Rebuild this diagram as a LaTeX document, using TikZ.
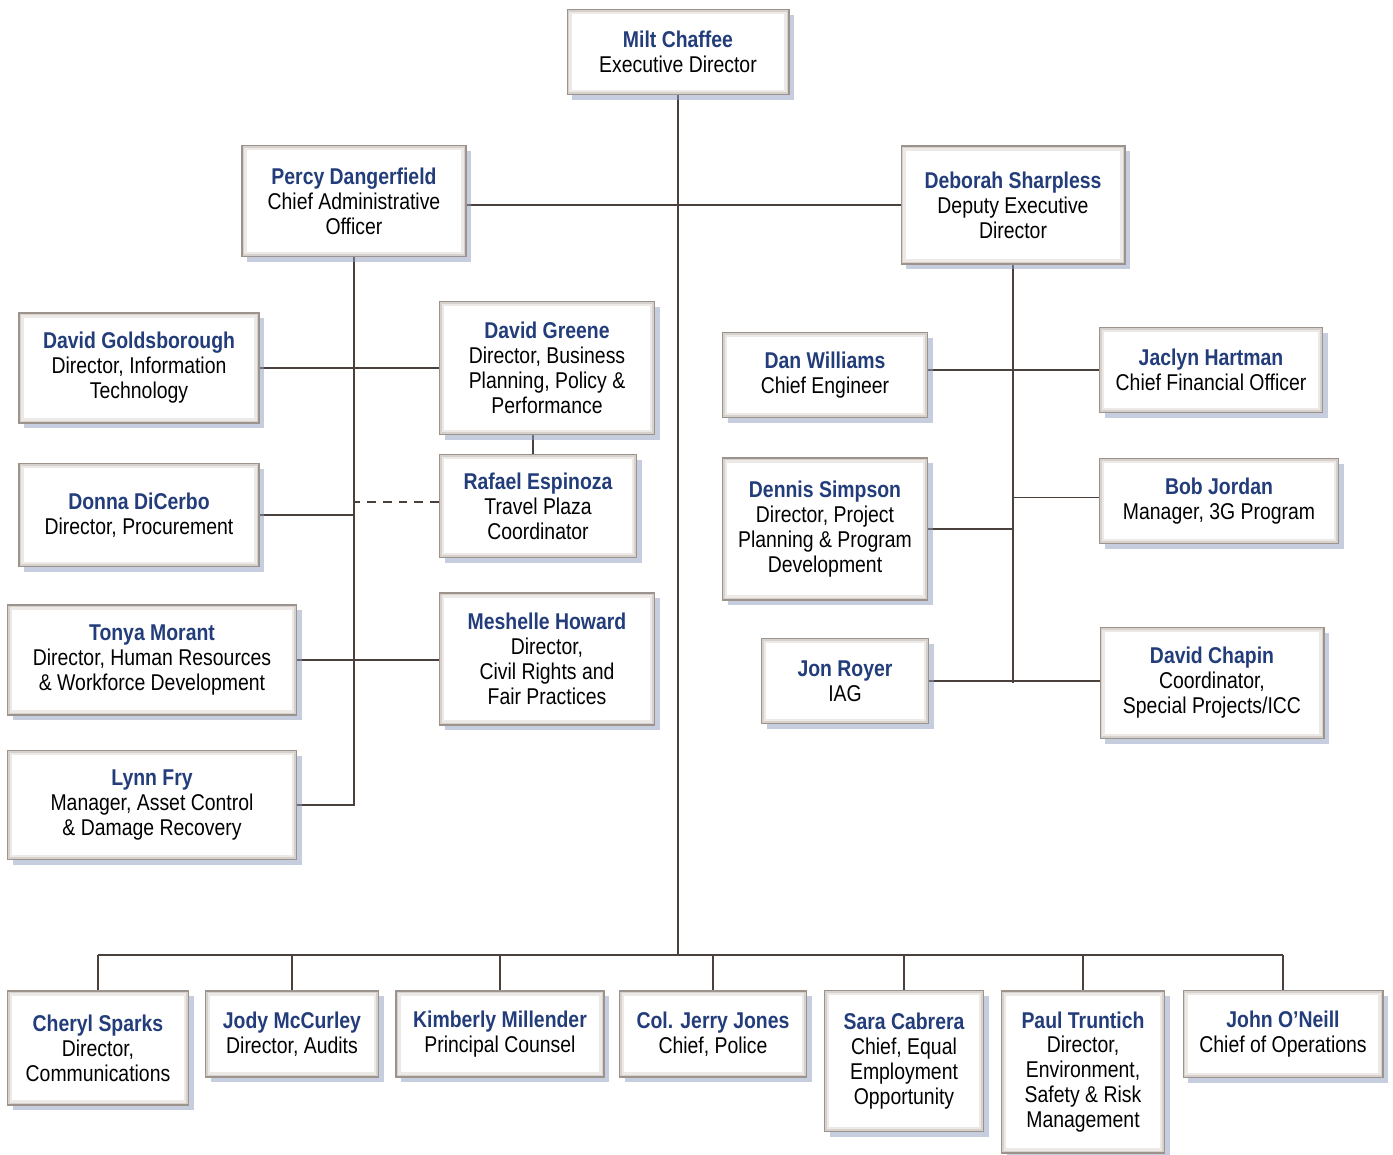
\documentclass[tikz,border=0pt]{standalone}
\usepackage{fontspec}
\setmainfont{Liberation Sans}[FakeStretch=0.85]
\usetikzlibrary{positioning,shadows,backgrounds}
\definecolor{namecolor}{RGB}{35,61,123}
\definecolor{linecolor}{RGB}{74,64,60}
\definecolor{edgecolor}{RGB}{156,147,140}
\definecolor{bevelcolor}{RGB}{214,209,204}
\definecolor{bevelmid}{RGB}{236,233,230}
\definecolor{shadowcolor}{RGB}{141,155,190}

\begin{document}
\begin{tikzpicture}[
    x=0.02cm, y=-0.02cm,
    orgbox/.style={
        rectangle, draw=edgecolor, fill=bevelcolor, line width=0.6pt,
        inner sep=1pt, align=center,
        font=\fontsize{13}{14.2}\selectfont,
        drop shadow={shadow xshift=3pt, shadow yshift=-3pt, fill=shadowcolor, opacity=0.5},
        path picture={
            \fill[bevelmid] ([shift={(1.3pt,-1.3pt)}]path picture bounding box.north west)
                rectangle ([shift={(-1.3pt,1.3pt)}]path picture bounding box.south east);
            \fill[white] ([shift={(2.8pt,-2.8pt)}]path picture bounding box.north west)
                rectangle ([shift={(-2.8pt,2.8pt)}]path picture bounding box.south east);
        }
    },
    link/.style={draw=linecolor, line width=1.1pt}
]
\useasboundingbox (0,0) rectangle (1393,1155);

% Top
\node[orgbox, minimum width=4.44cm, minimum height=1.70cm] (milt) at (678,52) {
    {\bfseries\color{namecolor}Milt Chaffee}\\
    Executive Director
};
\node[orgbox, minimum width=4.48cm, minimum height=2.22cm] (percy) at (354,201) {
    {\bfseries\color{namecolor}Percy Dangerfield}\\
    Chief Administrative\\ Officer
};
\node[orgbox, minimum width=4.48cm, minimum height=2.36cm] (deborah) at (1013,205) {
    {\bfseries\color{namecolor}Deborah Sharpless}\\
    Deputy Executive\\ Director
};

% Administrative side
\node[orgbox, minimum width=4.80cm, minimum height=2.20cm] (gold) at (139,368) {
    {\bfseries\color{namecolor}David Goldsborough}\\
    Director, Information\\ Technology
};
\node[orgbox, minimum width=4.30cm, minimum height=2.66cm] (greene) at (547,368) {
    {\bfseries\color{namecolor}David Greene}\\
    Director, Business\\ Planning, Policy \&\\ Performance
};
\node[orgbox, minimum width=3.94cm, minimum height=2.06cm] (rafael) at (538,506) {
    {\bfseries\color{namecolor}Rafael Espinoza}\\
    Travel Plaza\\ Coordinator
};
\node[orgbox, minimum width=4.80cm, minimum height=2.06cm] (donna) at (139,515) {
    {\bfseries\color{namecolor}Donna DiCerbo}\\
    Director, Procurement
};
\node[orgbox, minimum width=5.78cm, minimum height=2.20cm] (tonya) at (152,660) {
    {\bfseries\color{namecolor}Tonya Morant}\\
    Director, Human Resources\\ \& Workforce Development
};
\node[orgbox, minimum width=4.30cm, minimum height=2.64cm] (meshelle) at (547,659) {
    {\bfseries\color{namecolor}Meshelle Howard}\\
    Director,\\ Civil Rights and\\ Fair Practices
};
\node[orgbox, minimum width=5.78cm, minimum height=2.18cm] (lynn) at (152,805) {
    {\bfseries\color{namecolor}Lynn Fry}\\
    Manager, Asset Control\\ \& Damage Recovery
};

% Deputy side
\node[orgbox, minimum width=4.10cm, minimum height=1.70cm] (dan) at (825,375) {
    {\bfseries\color{namecolor}Dan Williams}\\
    Chief Engineer
};
\node[orgbox, minimum width=4.46cm, minimum height=1.70cm] (jaclyn) at (1211,370) {
    {\bfseries\color{namecolor}Jaclyn Hartman}\\
    Chief Financial Officer
};
\node[orgbox, minimum width=4.10cm, minimum height=2.84cm] (dennis) at (825,529) {
    {\bfseries\color{namecolor}Dennis Simpson}\\
    Director, Project\\ Planning \& Program\\ Development
};
\node[orgbox, minimum width=4.78cm, minimum height=1.70cm] (bob) at (1219,501) {
    {\bfseries\color{namecolor}Bob Jordan}\\
    Manager, 3G Program
};
\node[orgbox, minimum width=3.34cm, minimum height=1.70cm] (jon) at (845,681) {
    {\bfseries\color{namecolor}Jon Royer}\\
    IAG
};
\node[orgbox, minimum width=4.48cm, minimum height=2.22cm] (chapin) at (1212,683) {
    {\bfseries\color{namecolor}David Chapin}\\
    Coordinator,\\ Special Projects/ICC
};

% Bottom row
\node[orgbox, minimum width=3.62cm, minimum height=2.28cm] (cheryl) at (98,1048) {
    {\bfseries\color{namecolor}Cheryl Sparks}\\
    Director,\\ Communications
};
\node[orgbox, minimum width=3.46cm, minimum height=1.72cm] (jody) at (292,1034) {
    {\bfseries\color{namecolor}Jody McCurley}\\
    Director, Audits
};
\node[orgbox, minimum width=4.16cm, minimum height=1.72cm] (kimberly) at (500,1034) {
    {\bfseries\color{namecolor}Kimberly Millender}\\
    Principal Counsel
};
\node[orgbox, minimum width=3.74cm, minimum height=1.72cm] (jerry) at (713,1034) {
    {\bfseries\color{namecolor}Col. Jerry Jones}\\
    Chief, Police
};
\node[orgbox, minimum width=3.18cm, minimum height=2.82cm] (sara) at (904,1061) {
    {\bfseries\color{namecolor}Sara Cabrera}\\
    Chief, Equal\\ Employment\\ Opportunity
};
\node[orgbox, minimum width=3.26cm, minimum height=3.24cm] (paul) at (1083,1072) {
    {\bfseries\color{namecolor}Paul Truntich}\\
    Director,\\ Environment,\\ Safety \& Risk\\ Management
};
\node[orgbox, minimum width=4.00cm, minimum height=1.74cm] (oneill) at (1283,1034) {
    {\bfseries\color{namecolor}John O'Neill}\\
    Chief of Operations
};

\coordinate (bus) at (679,955);

% Connectors
\begin{scope}[on background layer]
\draw[link] (milt.south) -- (milt.south |- bus);
\draw[link] (deborah.west) -- (deborah.west -| percy.east);
\draw[link] (percy.south) -- (percy.south |- lynn.east) -- (lynn.east);
\draw[link] (gold.east) -- (greene.west);
\draw[link] ([xshift=-0.1cm]rafael.north) -- ([xshift=-0.1cm]rafael.north |- greene.south);
\draw[link, dashed, dash pattern=on 5pt off 4pt] ([yshift=0.08cm]rafael.west) -- ([yshift=0.08cm]rafael.west -| percy.south);
\draw[link] (donna.east) -- (donna.east -| percy.south);
\draw[link] (tonya.east) -- (tonya.east -| meshelle.west);
\draw[link] (deborah.south) -- (deborah.south |- chapin.west);
\draw[link] (dan.east |- jaclyn.west) -- (jaclyn.west);
\draw[link] ([yshift=0.07cm]bob.west) -- ([yshift=0.07cm]bob.west -| deborah.south);
\draw[link] (dennis.east) -- (dennis.east -| deborah.south);
\draw[link] (jon.east) -- (jon.east -| chapin.west);
\draw[link] (cheryl.north |- bus) -- (oneill.north |- bus);
\foreach \n in {cheryl,jody,kimberly,jerry,sara,paul,oneill}
    \draw[link] (\n.north) -- (\n.north |- bus);
\end{scope}

\end{tikzpicture}
\end{document}
